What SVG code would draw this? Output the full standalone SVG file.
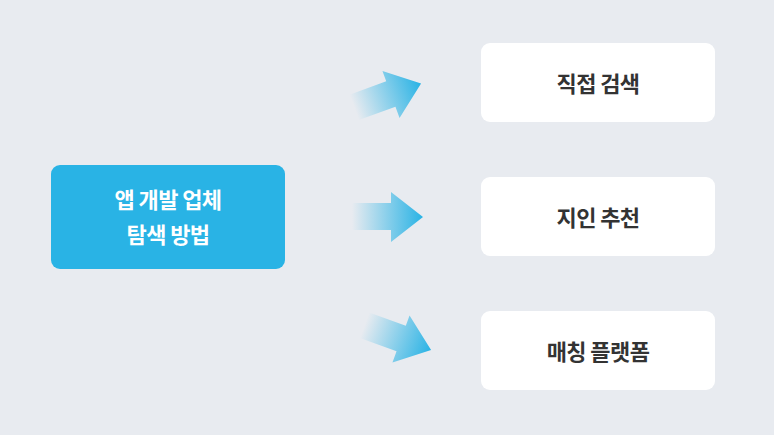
<svg xmlns="http://www.w3.org/2000/svg" width="774" height="435" viewBox="0 0 774 435">
<style>
.bg{fill:#E8EBF0}
.main{fill:#29B3E5}
.opt{fill:#FFFFFF}
.t{font-family:"Noto Sans CJK KR","Noto Sans",sans-serif;font-weight:700;font-size:22px;letter-spacing:-0.6px;text-anchor:middle}
.tw{fill:#FFFFFF}
.td{fill:#333333}
</style>
<defs>
<linearGradient id="ag" gradientUnits="userSpaceOnUse" x1="352" y1="0" x2="423" y2="0">
<stop offset="0" stop-color="#29B3E5" stop-opacity="0"/>
<stop offset="1" stop-color="#29B3E5" stop-opacity="1"/>
</linearGradient>
<path id="arrow" d="M352,203 L391,203 L391,192 L423,217 L391,242 L391,230 L352,230 Z" fill="url(#ag)"/>
</defs>
<rect class="bg" x="0" y="0" width="774" height="435"/>
<g id="connectors">
<use href="#arrow" transform="translate(391,94.5) rotate(-20) translate(-391,-217)"/>
<use href="#arrow"/>
<use href="#arrow" transform="translate(401,339) rotate(20) translate(-391,-217)"/>
</g>
<g id="node-main">
<rect class="main" x="51" y="165" width="234" height="104" rx="9"/>
<text class="t tw" x="168" y="208">앱 개발 업체</text>
<text class="t tw" x="168" y="243">탐색 방법</text>
</g>
<g id="node-direct">
<rect class="opt" x="481" y="43" width="234" height="79" rx="9"/>
<text class="t td" x="598" y="92">직접 검색</text>
</g>
<g id="node-referral">
<rect class="opt" x="481" y="177" width="234" height="79" rx="9"/>
<text class="t td" x="598" y="226">지인 추천</text>
</g>
<g id="node-platform">
<rect class="opt" x="481" y="311" width="234" height="79" rx="9"/>
<text class="t td" x="598" y="360">매칭 플랫폼</text>
</g>
</svg>
